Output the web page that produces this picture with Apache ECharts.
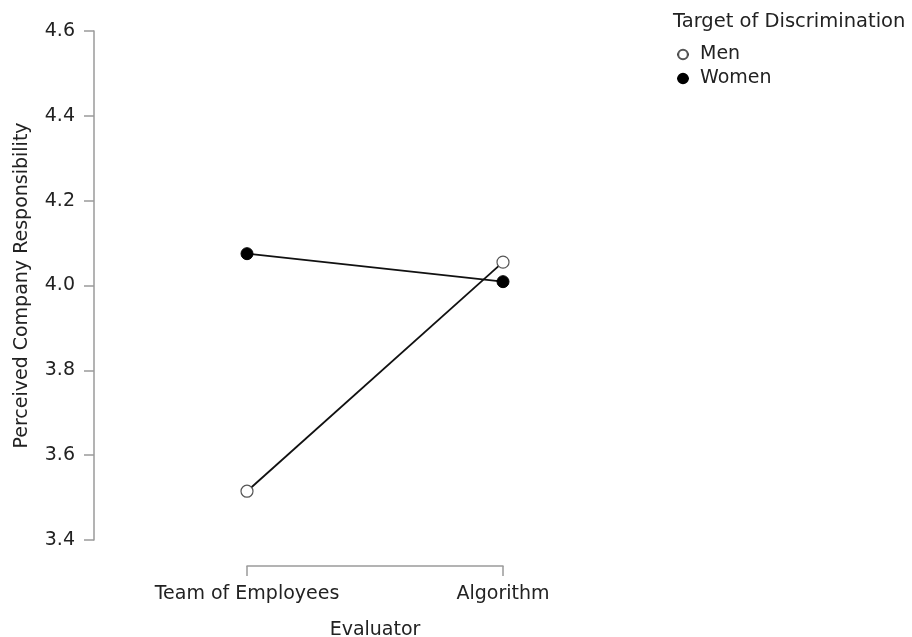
<!DOCTYPE html>
<html>
<head>
<meta charset="utf-8">
<script src="https://cdn.jsdelivr.net/npm/echarts@6/dist/echarts.min.js"></script>
<style>
  html, body { margin: 0; padding: 0; background: #fff; }
  #chart { width: 912px; height: 637px; }
</style>
</head>
<body>
<div id="chart"></div>
<script>
// Evaluator conditions on the x axis
const evaluators = ['Team of Employees', 'Algorithm'];
// Mean perceived company responsibility per target group
const menValues = [3.515, 4.055];
const womenValues = [4.075, 4.009];
// Y axis range and step
const yMin = 3.4;
const yMax = 4.6;
const yStep = 0.2;

const FONT = '"DejaVu Sans", sans-serif';
const TEXT = '#222';
const AXIS = '#9a9a9a';

const chart = echarts.init(document.getElementById('chart'), null, { renderer: 'canvas' });

chart.setOption({
  animation: false,
  backgroundColor: '#fff',
  textStyle: { fontFamily: FONT },
  title: {
    text: 'Target of Discrimination',
    left: 668,
    top: 7,
    textStyle: { fontFamily: FONT, fontSize: 19.5, fontWeight: 'normal', color: TEXT }
  },
  legend: {
    orient: 'vertical',
    left: 671,
    top: 40,
    itemWidth: 12,
    itemHeight: 12,
    itemGap: 5,
    textStyle: { fontFamily: FONT, fontSize: 19, color: TEXT, padding: [0, 0, 0, 6] },
    data: ['Men', 'Women']
  },
  grid: {
    left: 247, right: 409, top: 31, bottom: 97,
    containLabel: false,
    outerBoundsMode: 'none'
  },
  xAxis: {
    type: 'category',
    data: evaluators,
    boundaryGap: false,
    offset: 26,
    name: 'Evaluator',
    nameLocation: 'middle',
    nameGap: 55,
    nameTextStyle: { fontFamily: FONT, fontSize: 19, color: TEXT },
    axisLine: { show: true, lineStyle: { color: AXIS, width: 1.5 } },
    axisTick: { show: true, length: 10, alignWithLabel: true, lineStyle: { color: AXIS, width: 1.5 } },
    axisLabel: { margin: 19, fontFamily: FONT, fontSize: 19, color: TEXT },
    splitLine: { show: false }
  },
  yAxis: {
    type: 'value',
    min: yMin,
    max: yMax,
    interval: yStep,
    offset: 153,
    name: 'Perceived Company Responsibility',
    nameLocation: 'middle',
    nameGap: 62,
    nameTextStyle: { fontFamily: FONT, fontSize: 19, color: TEXT },
    axisLine: { show: true, lineStyle: { color: AXIS, width: 1.5 } },
    axisTick: { show: true, length: 10, lineStyle: { color: AXIS, width: 1.5 } },
    axisLabel: {
      margin: 19, fontFamily: FONT, fontSize: 19, color: TEXT,
      formatter: v => v.toFixed(1)
    },
    splitLine: { show: false }
  },
  series: [
    {
      name: 'Men',
      type: 'line',
      data: menValues,
      symbol: 'circle',
      symbolSize: 12,
      color: '#111',
      lineStyle: { color: '#111', width: 1.8 },
      itemStyle: { color: '#fff', borderColor: '#555', borderWidth: 1.2 },
      z: 3
    },
    {
      name: 'Women',
      type: 'line',
      data: womenValues,
      symbol: 'circle',
      symbolSize: 12,
      lineStyle: { color: '#111', width: 1.8 },
      itemStyle: { color: '#000', borderColor: '#000', borderWidth: 1 },
      z: 2
    }
  ]
});
</script>
</body>
</html>
